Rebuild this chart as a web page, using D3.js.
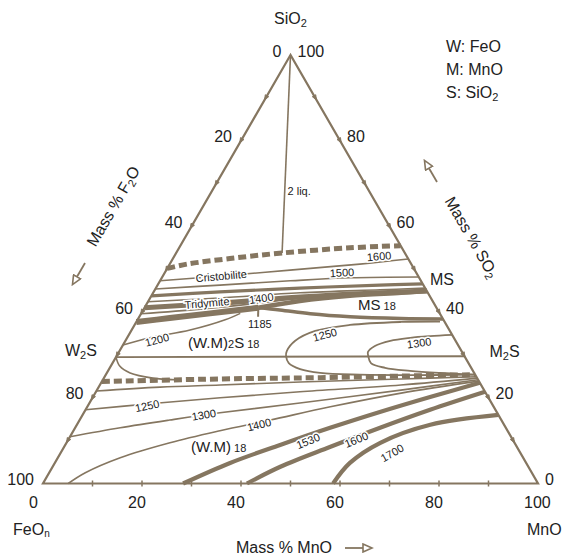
<!DOCTYPE html>
<meta charset="utf-8" />
<style>
    body { margin: 0; background: #fff; }
    svg { display: block; }
    text { font-family: 'Liberation Sans', Arial, sans-serif; fill: #222; }
    .iso { font-size: 11px; fill: #222; stroke: #fff; stroke-width: 3px; paint-order: stroke; }
</style>

<svg width="565" height="557"></svg>

<script src="https://d3js.org/d3.v7.min.js"></script>
<script>
    // compositions are [MnO, SiO2] in mass %, FeO is the rest
    const edgeTicks = [0, 20, 40, 60, 80, 100];
    const minorTicks = [10, 20, 30, 40, 50, 60, 70, 80, 90];

    const dashUpper = [[0, 50.2], [3.5, 51.2], [11.5, 52.5], [21.4, 53.8], [34.5, 55.0], [44.5, 55.5]];
    const twoLiq = [[0, 100], [21.4, 53.8]];
    const iso1600Si = [[0, 47.3], [11.5, 48.4], [25.0, 49.8], [38.4, 51.2], [47.6, 52.4]];
    const iso1500Si = [[0, 45.4], [12.6, 46.3], [26.3, 47.3], [38.0, 48.0], [51.8, 48.2]];
    const cotectic1 = [[0, 43.8], [13.4, 44.7], [29.1, 45.6], [44.9, 46.3], [53.4, 46.6]];
    const cotectic2 = [[0, 42.4], [14.1, 43.3], [29.7, 44.5], [45.5, 45.2], [54.4, 45.6]];
    const cotectic3 = [[0, 41.0], [14.7, 42.1], [30.2, 43.5], [45.9, 44.5], [55.1, 44.9]];
    const iso1400Si = [[0, 39.6], [11.4, 40.7], [22.4, 42.1], [30.3, 43.3]];
    const eutectic = [[0, 37.7], [6.3, 38.6], [13.9, 39.7], [23.0, 41.0]];
    const branchMS = [[23.0, 41.0], [30.6, 42.6], [40.1, 43.8], [50.1, 44.5], [55.1, 44.9]];
    const boundaryMS = [[23.0, 41.0], [27.6, 40.5], [34.2, 39.6], [42.6, 38.9], [53.1, 38.5], [61.6, 38.4]];
    const tick1185 = [[23.0, 41.0], [24.0, 38.9]];
    const iso1200 = [[0, 32.3], [4.6, 34.0], [11.8, 35.8], [17.7, 38.2], [20.0, 39.7]];
    const tieLine = [[0, 29.5], [70.3, 29.7]];
    const loopW2S = [[0, 29.5], [1.8, 27.4], [4.7, 25.8], [9.9, 24.6], [14.6, 24.2]];
    const loop1250 = [[61.3, 37.8], [53.5, 37.7], [43.5, 37.0], [37.2, 35.6], [34.3, 33.3], [33.8, 30.9], [34.2, 29.8],
        [35.6, 28.1], [38.6, 26.7], [43.1, 25.8], [51.3, 25.4], [63.5, 25.3], [74.4, 25.4]];
    const loop1300 = [[65.3, 34.7], [61.0, 34.4], [57.2, 34.0], [53.5, 33.3], [51.0, 32.1], [50.3, 30.7], [50.8, 29.8],
        [52.2, 28.1], [55.6, 27.0], [61.0, 26.3], [67.3, 25.8], [74.4, 25.4]];
    const dashLower = [[0, 23.8], [23.6, 24.4], [43.6, 24.7], [69.6, 25.3], [74.6, 25.4]];
    const isoWM1200 = [[0, 21.6], [12.4, 22.5], [24.3, 23.0], [40.1, 23.7], [60.1, 24.4], [75.1, 24.9]];
    const isoWM1250 = [[0, 17.2], [12.3, 18.6], [25.8, 20.0], [41.2, 21.4], [60.8, 23.0], [75.4, 24.6]];
    const isoWM1300 = [[0, 10.9], [9.1, 13.0], [18.2, 14.8], [27.5, 16.5], [42.5, 18.8], [61.4, 21.8], [75.8, 24.2]];
    const isoWM1400 = [[5.1, 0], [7.3, 2.5], [12.6, 6.0], [20.9, 9.5], [29.6, 12.3], [38.5, 14.8], [49.1, 17.9],
        [61.8, 21.1], [76.1, 23.9]];
    const iso1530 = [[28.3, 0], [35.4, 4.8], [43.4, 9.0], [51.5, 13.0], [59.7, 16.7], [68.1, 20.2], [76.5, 23.5]];
    const iso1600WM = [[41.2, 0], [46.0, 3.9], [53.7, 8.5], [61.6, 13.0], [69.6, 17.2], [78.6, 21.4]];
    const iso1700 = [[58.6, 0], [59.6, 4.8], [63.4, 9.5], [71.4, 13.7], [84.0, 16.0]];

    const isoLabels = ['1600', '1500', 'Cristobilite', 'Tridymite', '1400', '1185', '2 liq.', '1200', '1250', '1300',
        '1250', '1300', '1400', '1530', '1600', '1700'];
    const isoLabelAt = [[41.4, 53.0], [35.8, 49.2], [11.8, 48.4], [12.1, 42.1], [22.5, 43.2], [25.2, 37.2], [17.6, 68.3],
        [6.3, 33.5], [39.6, 34.7], [59.6, 32.8], [12.0, 18.1], [24.5, 16.0], [36.8, 13.7], [48.6, 9.9], [58.2, 10.2], [67.0, 7.1]];

    const color = '#857660';
    const svg = d3.select('svg');

    const x = d3.scaleLinear().domain([0, 100]).range([43, 538]);
    const y = d3.scaleLinear().domain([0, 100]).range([483.5, 55]);
    const px = d => x(d[0] + d[1] / 2);
    const py = d => y(d[1]);

    const smooth = d3.line().x(px).y(py).curve(d3.curveCatmullRom.alpha(0.5));
    const straight = d3.line().x(px).y(py);

    const lines = [
        { pts: twoLiq, w: 1.6, f: straight },
        { pts: dashUpper, w: 5, dash: '8,4' },
        { pts: iso1600Si, w: 1.6 },
        { pts: iso1500Si, w: 1.6 },
        { pts: cotectic1, w: 3.2 },
        { pts: cotectic2, w: 1.6 },
        { pts: cotectic3, w: 5 },
        { pts: iso1400Si, w: 1.6 },
        { pts: eutectic, w: 6 },
        { pts: branchMS, w: 4.5 },
        { pts: boundaryMS, w: 3.5 },
        { pts: tick1185, w: 2, f: straight },
        { pts: iso1200, w: 1.6 },
        { pts: tieLine, w: 1.8, f: straight },
        { pts: loopW2S, w: 1.6 },
        { pts: loop1250, w: 1.8 },
        { pts: loop1300, w: 1.8 },
        { pts: dashLower, w: 5, dash: '8,4' },
        { pts: isoWM1200, w: 1.6 },
        { pts: isoWM1250, w: 1.6 },
        { pts: isoWM1300, w: 1.6 },
        { pts: isoWM1400, w: 1.6 },
        { pts: iso1530, w: 4.2 },
        { pts: iso1600WM, w: 4.2 },
        { pts: iso1700, w: 4.2 },
    ];

    svg.append('g')
        .selectAll('path')
        .data(lines)
        .enter()
        .append('path')
        .attr('d', d => (d.f || smooth)(d.pts))
        .attr('fill', 'none')
        .attr('stroke', color)
        .attr('stroke-width', d => d.w)
        .attr('stroke-dasharray', d => d.dash || null);

    // triangle frame
    svg.append('path')
        .attr('d', straight([[0, 100], [0, 0], [100, 0]]) + 'Z')
        .attr('fill', 'none')
        .attr('stroke', color)
        .attr('stroke-width', 2.2)
        .attr('stroke-linejoin', 'miter');

    // small arrow marks along the slanted sides, short ticks along the base
    const ticks = svg.append('g').attr('fill', color).attr('stroke', color).attr('stroke-width', 0.8);
    minorTicks.forEach(v => {
        const l = [0, 100 - v];
        ticks.append('path').attr('d', 'M-2.5,-2L2.5,0L-2.5,2Z')
            .attr('transform', `translate(${px(l)},${py(l)}) rotate(120)`);
        const r = [100 - v, v];
        ticks.append('path').attr('d', 'M-2.5,-2L2.5,0L-2.5,2Z')
            .attr('transform', `translate(${px(r)},${py(r)}) rotate(60)`);
        const b = [v, 0];
        ticks.append('line').attr('x1', px(b)).attr('x2', px(b)).attr('y1', py(b) - 3).attr('y2', py(b) + 3)
            .attr('stroke-width', 1.5);
    });

    const axisText = svg.append('g').style('font-size', '16px');
    edgeTicks.forEach(v => {
        const l = [0, 100 - v];
        axisText.append('text').attr('x', px(l) - 9).attr('y', py(l) - 4).attr('dy', '0.35em')
            .attr('text-anchor', 'end').text(v);
        const r = [100 - v, v];
        axisText.append('text').attr('x', px(r) + 7).attr('y', py(r) - 4).attr('dy', '0.35em').text(v);
        const b = [v, 0];
        axisText.append('text').attr('x', px(b) - 14).attr('y', py(b) + 24).text(v);
    });

    // isotherm and phase labels
    const labelAngles = [-5, -3, -5, -5, -8, 0, 0, -15, -15, -8, -12, -10, -14, -22, -22, -30];
    svg.append('g')
        .selectAll('text')
        .data(isoLabels)
        .enter()
        .append('text')
        .attr('class', 'iso')
        .attr('text-anchor', 'middle')
        .attr('dy', '0.35em')
        .attr('transform', (d, i) => `translate(${px(isoLabelAt[i])},${py(isoLabelAt[i])}) rotate(${labelAngles[i]})`)
        .text(d => d);

    function rich(parent, xx, yy, parts, size) {
        const t = parent.append('text').attr('x', xx).attr('y', yy).style('font-size', size + 'px');
        parts.forEach(p => {
            const s = t.append('tspan').text(p[0]);
            if (p[1]) s.style('font-size', p[1] + 'px');
            if (p[2]) s.attr('dy', p[2]);
        });
        return t;
    }

    const labels = svg.append('g');
    const wm2s = [12.8, 33.0], ms = [42.7, 41.9], wm = [25.5, 8.8];
    rich(labels, px(wm2s), py(wm2s) + 6, [['(W.M)'], ['2', 11], ['S'], [' 18', 11]], 15);
    rich(labels, px(ms), py(ms) + 6, [['MS'], [' 18', 11]], 15);
    rich(labels, px(wm), py(wm) + 6, [['(W.M)'], [' 18', 11]], 15);

    const w2s = tieLine[0], m2s = tieLine[1];
    rich(labels, px(w2s) - 51, py(w2s) - 1, [['W'], ['2', 11, 3], ['S', null, -3]], 16);
    rich(labels, px(m2s) + 25, py(m2s) + 1, [['M'], ['2', 11, 3], ['S', null, -3]], 16);
    labels.append('text').attr('x', 430).attr('y', 285).style('font-size', '16px').text('MS');

    rich(labels, 274, 24, [['SiO'], ['2', 11, 3]], 16);
    rich(labels, 13, 535, [['FeO'], ['n', 10, 2]], 16);
    labels.append('text').attr('x', 527).attr('y', 535).style('font-size', '16px').text('MnO');

    rich(labels, 446, 52, [['W: FeO']], 16);
    rich(labels, 446, 74.5, [['M: MnO']], 16);
    rich(labels, 446, 97.5, [['S: SiO'], ['2', 11, 3]], 16);

    rich(labels, 236, 553, [['Mass % MnO']], 16);
    rich(labels, 0, 0, [['Mass % F'], ['2', 11, 3], ['O', null, -3]], 16)
        .attr('text-anchor', 'middle')
        .attr('transform', 'translate(118,209) rotate(-60)');
    rich(labels, 0, 0, [['Mass % SO'], ['2', 11, 3]], 16)
        .attr('text-anchor', 'middle')
        .attr('transform', 'translate(467,240) rotate(60)');

    // open-headed arrows beside the axis titles
    svg.append('defs').append('marker')
        .attr('id', 'open')
        .attr('viewBox', '0 0 12 10')
        .attr('markerUnits', 'userSpaceOnUse')
        .attr('markerWidth', 12)
        .attr('markerHeight', 10)
        .attr('refX', 1)
        .attr('refY', 5)
        .attr('orient', 'auto')
        .append('path')
        .attr('d', 'M1,1L10,5L1,9Z')
        .attr('fill', '#fff')
        .attr('stroke', color)
        .attr('stroke-width', 1.6);

    const arrows = [[345, 548, 363, 548], [85, 263, 77, 276.8], [437, 182, 429, 168.2]];
    svg.append('g')
        .selectAll('line')
        .data(arrows)
        .enter()
        .append('line')
        .attr('x1', d => d[0]).attr('y1', d => d[1]).attr('x2', d => d[2]).attr('y2', d => d[3])
        .attr('stroke', color)
        .attr('stroke-width', 1.8)
        .attr('marker-end', 'url(#open)');
</script>
